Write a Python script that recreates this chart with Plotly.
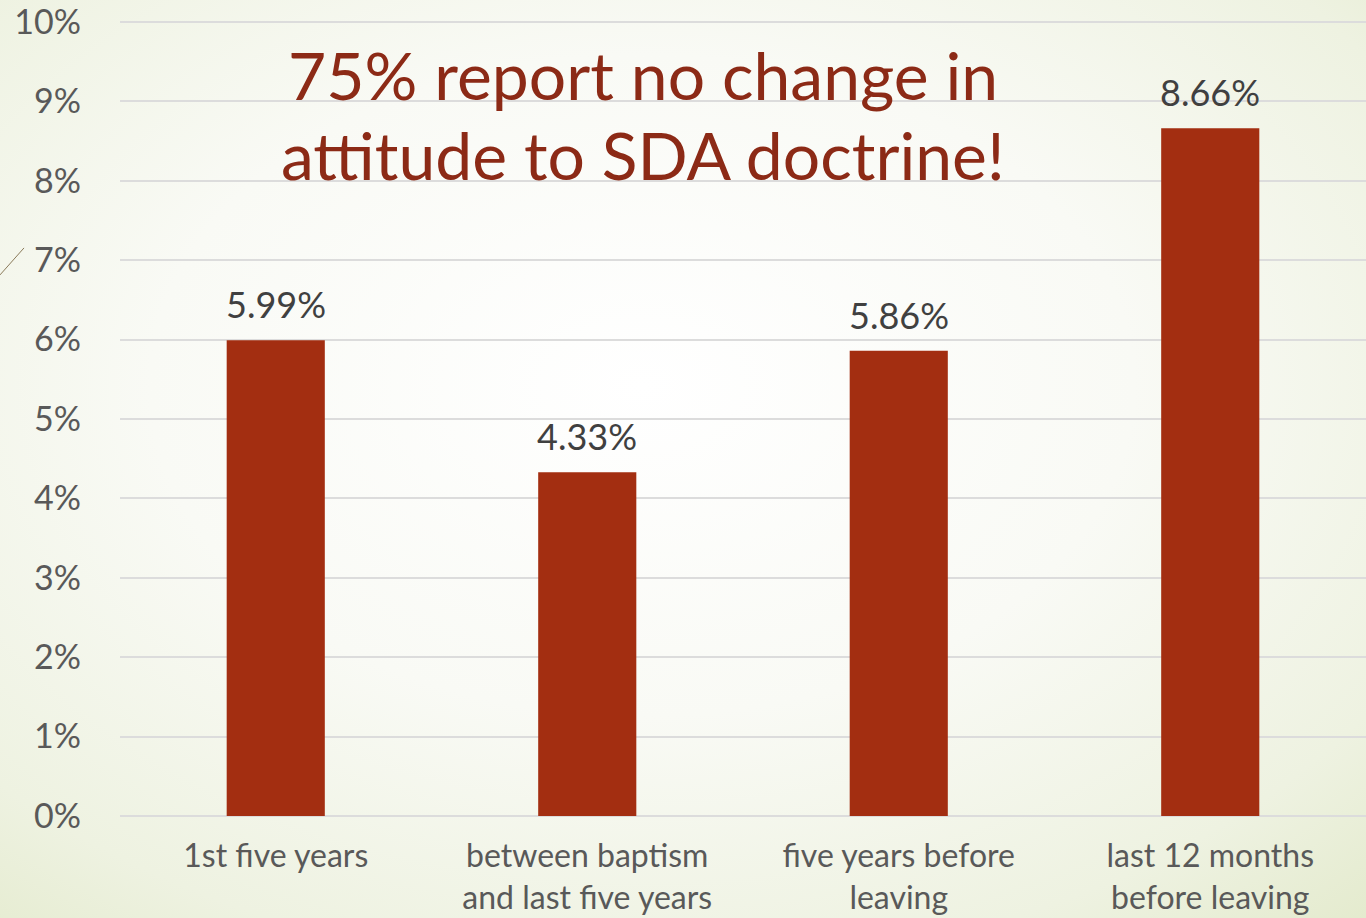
import plotly.graph_objects as go
import urllib.parse

categories = ["1st five years", "between baptism<br>and last five years",
              "five years before<br>leaving", "last 12 months<br>before leaving"]
values = [5.99, 4.33, 5.86, 8.66]
value_labels = ["5.99%", "4.33%", "5.86%", "8.66%"]
y_ticks = [0, 1, 2, 3, 4, 5, 6, 7, 8, 9, 10]
y_tick_labels = [f"{v}%" for v in y_ticks]
title_lines = ["75% report no change in", "attitude to SDA doctrine!"]

FONT = "Lato"
W, H = 1366, 918
L, B = 120, 102
YMAX = 10.2
PH = 79.4 * YMAX
T = H - B - PH
PW = W - L

svg = ('<svg xmlns="http://www.w3.org/2000/svg" width="1366" height="918">'
       '<defs><radialGradient id="g" cx="47%" cy="42%" r="80%">'
       '<stop offset="0" stop-color="#ffffff"/>'
       '<stop offset="0.45" stop-color="#f9faf5"/>'
       '<stop offset="0.8" stop-color="#eef2e1"/>'
       '<stop offset="1" stop-color="#e3eacc"/>'
       '</radialGradient></defs>'
       '<rect width="1366" height="918" fill="url(#g)"/></svg>')
bg_uri = "data:image/svg+xml;charset=utf-8," + urllib.parse.quote(svg)

fig = go.Figure()
fig.add_trace(go.Bar(
    x=categories, y=values,
    marker=dict(color="#A32E11", line=dict(width=0)),
    cliponaxis=False, hoverinfo="skip",
))

annotations = []
for c, v, lab in zip(categories, values, value_labels):
    annotations.append(dict(
        x=c, y=v, xref="x", yref="y", text=lab, showarrow=False,
        xanchor="center", yanchor="bottom", yshift=12,
        font=dict(family=FONT, size=36, color="#404040"),
    ))
for line, cy in zip(title_lines, [75, 155]):
    annotations.append(dict(
        text=line, xref="paper", yref="paper",
        x=(643 - L) / PW, y=1 - (cy - T) / PH,
        xanchor="center", yanchor="middle", showarrow=False,
        font=dict(family=FONT, size=66, color="#8C2A16"),
    ))

fig.update_layout(
    width=W, height=H,
    margin=dict(l=L, r=0, t=T, b=B, autoexpand=False),
    paper_bgcolor="rgba(0,0,0,0)",
    plot_bgcolor="rgba(0,0,0,0)",
    bargap=0.685,
    showlegend=False,
    images=[dict(source=bg_uri, xref="paper", yref="paper", x=-L/PW, y=1+T/PH,
                 sizex=W/PW, sizey=H/PH, xanchor="left", yanchor="top",
                 sizing="stretch", layer="below")],
    xaxis=dict(
        tickfont=dict(family=FONT, size=32, color="#595959"),
        showgrid=False, showline=False, ticks="", ticklabelstandoff=18,
        automargin=False, ticklabeloverflow="allow",
    ),
    yaxis=dict(
        range=[0, YMAX], tickvals=y_ticks, ticktext=y_tick_labels,
        tickfont=dict(family=FONT, size=34, color="#595959"),
        showgrid=True, gridcolor="#DCDCDC", gridwidth=2,
        zeroline=True, zerolinecolor="#DCDCDC", zerolinewidth=2,
        showline=False, ticks="", ticklabelstandoff=38,
        automargin=False, ticklabeloverflow="allow",
    ),
    annotations=annotations,
    shapes=[dict(type="line", xref="paper", yref="paper",
                 x0=-L/PW, y0=1 - (275 - T) / PH,
                 x1=-96/PW, y1=1 - (248 - T) / PH,
                 line=dict(color="#8a7a5a", width=1))],
)

fig.write_html("out.html", config={"displayModeBar": False},
               post_script="document.body.style.margin='0px';")
